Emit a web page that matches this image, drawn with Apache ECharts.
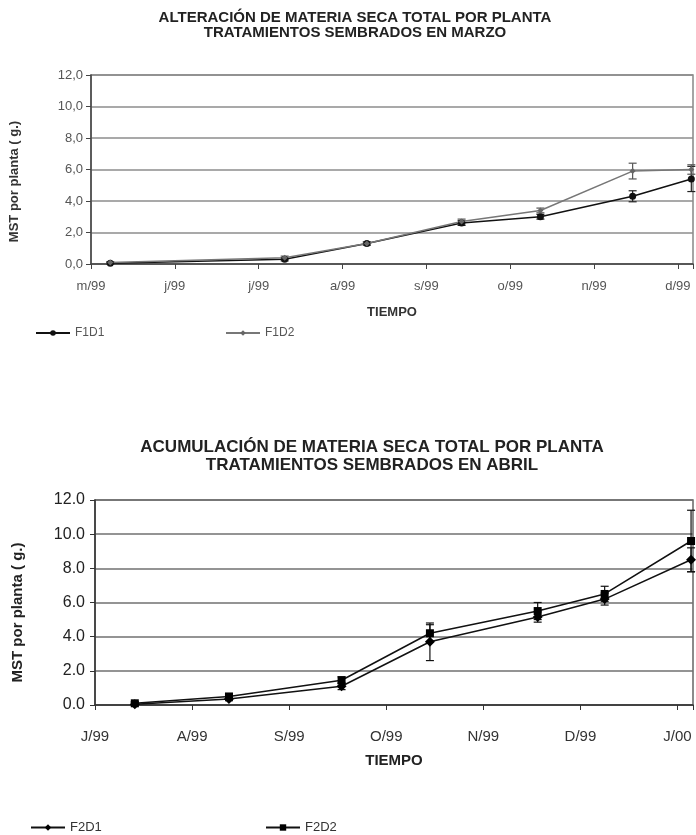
<!DOCTYPE html>
<html>
<head>
<meta charset="utf-8">
<script src="https://cdn.jsdelivr.net/npm/echarts@6/dist/echarts.min.js"></script>
<style>
html, body { margin: 0; padding: 0; background: #fff; }
#chart { width: 696px; height: 835px; }
</style>
</head>
<body>
<div id="chart"></div>
<script>
// top chart (sembrados en marzo), x = months counted from m/99
const marzoMonths = ['m/99', 'j/99', 'j/99', 'a/99', 's/99', 'o/99', 'n/99', 'd/99']
const marzoX = [0.23, 2.31, 3.29, 4.42, 5.36, 6.46, 7.16]
const f1d1 = [0.05, 0.3, 1.3, 2.6, 3.0, 4.3, 5.4]
const f1d1Err = [0.05, 0.1, 0.1, 0.15, 0.15, 0.35, 0.8]
const f1d2 = [0.1, 0.4, 1.3, 2.7, 3.4, 5.9, 6.0]
const f1d2Err = [0.05, 0.1, 0.1, 0.15, 0.15, 0.5, 0.3]

// bottom chart (sembrados en abril), x = months counted from J/99
const abrilMonths = ['J/99', 'A/99', 'S/99', 'O/99', 'N/99', 'D/99', 'J/00']
const abrilX = [0.41, 1.38, 2.54, 3.45, 4.56, 5.25, 6.14]
const f2d1 = [0.05, 0.35, 1.1, 3.7, 5.15, 6.2, 8.5]
const f2d1Err = [0.1, 0.1, 0.2, 1.1, 0.3, 0.35, 0.7]
const f2d2 = [0.1, 0.5, 1.45, 4.2, 5.5, 6.5, 9.6]
const f2d2Err = [0.1, 0.15, 0.2, 0.5, 0.5, 0.45, 1.8]

const yTicks = [0, 2, 4, 6, 8, 10, 12]

const chart = echarts.init(document.getElementById('chart'))
const font = "'Liberation Sans', Arial, sans-serif"

const pairs = (xs, ys) => xs.map((x, i) => [x, ys[i]])
const bars = (xs, ys, errs) => xs.map((x, i) => [x, ys[i] - errs[i], ys[i] + errs[i]])
const isWhole = v => Math.abs(v - Math.round(v)) < 1e-6

function errorSeries(idx, data, color) {
  return {
    type: 'custom',
    xAxisIndex: idx,
    yAxisIndex: idx,
    silent: true,
    z: 4,
    data: data,
    encode: { x: 0, y: [1, 2] },
    renderItem: (params, api) => {
      const x = api.value(0)
      const lo = api.coord([x, api.value(1)])
      const hi = api.coord([x, api.value(2)])
      const cap = 4
      const style = { stroke: color, lineWidth: 1.2 }
      return {
        type: 'group',
        children: [
          { type: 'line', shape: { x1: lo[0], y1: lo[1], x2: hi[0], y2: hi[1] }, style: style },
          { type: 'line', shape: { x1: lo[0] - cap, y1: lo[1], x2: lo[0] + cap, y2: lo[1] }, style: style },
          { type: 'line', shape: { x1: hi[0] - cap, y1: hi[1], x2: hi[0] + cap, y2: hi[1] }, style: style }
        ]
      }
    }
  }
}

const option = {
  animation: false,
  backgroundColor: '#fff',
  title: [
    {
      text: 'ALTERACIÓN DE MATERIA SECA TOTAL POR PLANTA\nTRATAMIENTOS SEMBRADOS EN MARZO',
      left: 355,
      top: 10,
      padding: 0,
      textAlign: 'center',
      textStyle: { fontSize: 15, fontWeight: 'bold', lineHeight: 15, color: '#222', fontFamily: font }
    },
    {
      text: 'ACUMULACIÓN DE MATERIA SECA TOTAL POR PLANTA\nTRATAMIENTOS SEMBRADOS EN ABRIL',
      left: 372,
      top: 438,
      padding: 0,
      textAlign: 'center',
      textStyle: { fontSize: 17, fontWeight: 'bold', lineHeight: 18, color: '#222', fontFamily: font }
    }
  ],
  legend: [
    { data: ['F1D1'], left: 30, top: 322, itemWidth: 34, itemHeight: 7, itemGap: 4, textStyle: { color: '#555', fontSize: 12, fontFamily: font } },
    { data: ['F1D2'], left: 220, top: 322, itemWidth: 34, itemHeight: 7, itemGap: 4, textStyle: { color: '#555', fontSize: 12, fontFamily: font } },
    { data: ['F2D1'], left: 25, top: 816, itemWidth: 34, itemHeight: 8, itemGap: 4, textStyle: { color: '#333', fontSize: 13, fontFamily: font } },
    { data: ['F2D2'], left: 260, top: 816, itemWidth: 34, itemHeight: 8, itemGap: 4, textStyle: { color: '#333', fontSize: 13, fontFamily: font } }
  ],
  grid: [
    { left: 91, top: 75, width: 603, height: 189, show: true, borderColor: '#888', borderWidth: 1.5 },
    { left: 95, top: 500, width: 599, height: 205, show: true, borderColor: '#666', borderWidth: 1.5 }
  ],
  xAxis: [
    {
      gridIndex: 0, type: 'value', min: 0, max: 7.18, interval: 1,
      axisLine: { show: true, onZero: false, lineStyle: { color: '#444', width: 1.5 } },
      axisTick: { show: true, length: 5, lineStyle: { color: '#444' } },
      splitLine: { show: false },
      axisLabel: { margin: 16, color: '#555', fontSize: 13, fontFamily: font, formatter: v => isWhole(v) ? marzoMonths[Math.round(v)] : '' },
      name: 'TIEMPO', nameLocation: 'middle', nameGap: 42,
      nameTextStyle: { fontSize: 13, fontWeight: 'bold', color: '#333', fontFamily: font }
    },
    {
      gridIndex: 1, type: 'value', min: 0, max: 6.16, interval: 1,
      axisLine: { show: true, onZero: false, lineStyle: { color: '#333', width: 1.5 } },
      axisTick: { show: true, length: 5, lineStyle: { color: '#333' } },
      splitLine: { show: false },
      axisLabel: { margin: 24, color: '#333', fontSize: 15, fontFamily: font, formatter: v => isWhole(v) ? abrilMonths[Math.round(v)] : '' },
      name: 'TIEMPO', nameLocation: 'middle', nameGap: 48,
      nameTextStyle: { fontSize: 15, fontWeight: 'bold', color: '#222', fontFamily: font }
    }
  ],
  yAxis: [
    {
      gridIndex: 0, type: 'value', min: 0, max: 12, interval: 2,
      axisLine: { show: true, lineStyle: { color: '#444', width: 1.5 } },
      axisTick: { show: true, length: 5, lineStyle: { color: '#444' } },
      splitLine: { show: true, lineStyle: { color: '#8c8c8c', width: 1.5 } },
      axisLabel: { margin: 8, color: '#555', fontSize: 13, fontFamily: font, formatter: v => yTicks.includes(v) ? v.toFixed(1).replace('.', ',') : '' },
      name: 'MST por planta ( g.)', nameLocation: 'middle', nameRotate: 90, nameGap: 70,
      nameTextStyle: { fontSize: 13, fontWeight: 'bold', color: '#333', fontFamily: font, padding: [0, 24, 0, 0] }
    },
    {
      gridIndex: 1, type: 'value', min: 0, max: 12, interval: 2,
      axisLine: { show: true, lineStyle: { color: '#333', width: 1.5 } },
      axisTick: { show: true, length: 5, lineStyle: { color: '#333' } },
      splitLine: { show: true, lineStyle: { color: '#707070', width: 1.5 } },
      axisLabel: { margin: 10, color: '#222', fontSize: 16, fontFamily: font, formatter: v => v.toFixed(1) },
      name: 'MST por planta ( g.)', nameLocation: 'middle', nameRotate: 90, nameGap: 70,
      nameTextStyle: { fontSize: 15, fontWeight: 'bold', color: '#222', fontFamily: font, padding: [0, 20, 0, 0] }
    }
  ],
  series: [
    {
      name: 'F1D1', type: 'line', xAxisIndex: 0, yAxisIndex: 0, z: 5,
      data: pairs(marzoX, f1d1),
      symbol: 'circle', symbolSize: 7,
      itemStyle: { color: '#111' }, lineStyle: { color: '#111', width: 1.5 }
    },
    {
      name: 'F1D2', type: 'line', xAxisIndex: 0, yAxisIndex: 0, z: 5,
      data: pairs(marzoX, f1d2),
      symbol: 'diamond', symbolSize: 6,
      itemStyle: { color: '#666' }, lineStyle: { color: '#777', width: 1.5 }
    },
    errorSeries(0, bars(marzoX, f1d1, f1d1Err), '#222'),
    errorSeries(0, bars(marzoX, f1d2, f1d2Err), '#555'),
    {
      name: 'F2D1', type: 'line', xAxisIndex: 1, yAxisIndex: 1, z: 5,
      data: pairs(abrilX, f2d1),
      symbol: 'diamond', symbolSize: 10,
      itemStyle: { color: '#000' }, lineStyle: { color: '#111', width: 1.5 }
    },
    {
      name: 'F2D2', type: 'line', xAxisIndex: 1, yAxisIndex: 1, z: 5,
      data: pairs(abrilX, f2d2),
      symbol: 'rect', symbolSize: 8,
      itemStyle: { color: '#000' }, lineStyle: { color: '#111', width: 1.5 }
    },
    errorSeries(1, bars(abrilX, f2d1, f2d1Err), '#111'),
    errorSeries(1, bars(abrilX, f2d2, f2d2Err), '#111')
  ]
}

chart.setOption(option)
</script>
</body>
</html>
